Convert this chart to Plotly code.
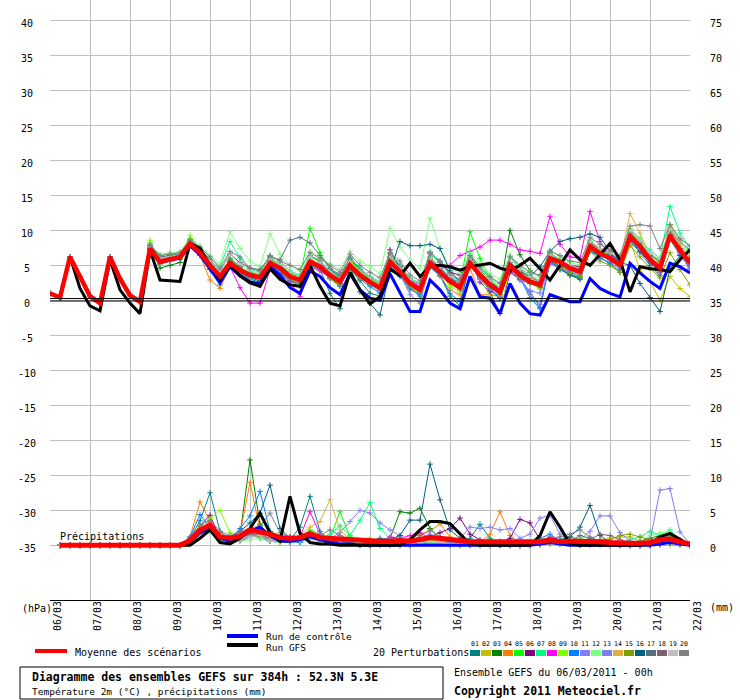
import plotly.graph_objects as go

# GEFS ensemble run of 06/03/2011 00h, 52.3N 5.3E, 6-hourly steps over 384h
hours = list(range(0, 385, 6))
precip_hours = hours[1:]
day_hours = list(range(0, 385, 24))
date_labels = ["06/03", "07/03", "08/03", "09/03", "10/03", "11/03", "12/03", "13/03", "14/03",
               "15/03", "16/03", "17/03", "18/03", "19/03", "20/03", "21/03", "22/03"]
temp_ticks = [-35, -30, -25, -20, -15, -10, -5, 0, 5, 10, 15, 20, 25, 30, 35, 40]
precip_ticks = [0, 5, 10, 15, 20, 25, 30, 35, 40, 45, 50, 55, 60, 65, 70, 75]

# 2m temperature (°C)
temp_mean = [1.0, 0.4, 6.2, 3.4, 0.6, -0.4, 6.2, 3.1, 0.7, -0.2,
             7.4, 5.5, 5.9, 6.2, 8.1, 6.8, 5.0, 3.4, 5.3, 4.3, 3.6, 3.3,
             5.3, 4.6, 3.4, 2.9, 5.5, 4.8, 3.6, 2.7, 5.0, 3.6, 2.6, 1.8,
             5.5, 4.1, 2.4, 1.5, 5.3, 4.1, 2.7, 1.8, 5.3, 3.6, 2.2, 1.2,
             5.0, 3.6, 2.7, 2.2, 6.0, 5.5, 4.6, 4.1, 7.7, 6.7, 6.0, 5.0,
             9.1, 7.7, 5.8, 4.6, 9.3, 7.2, 5.3]
temp_control = [1.0, 0.4, 6.2, 3.4, 0.6, -0.4, 6.2, 3.1, 0.7, -0.2,
                7.2, 5.4, 5.8, 6.0, 7.8, 6.5, 4.5, 2.5, 4.8, 3.5, 2.6, 2.4,
                4.8, 3.6, 1.8, 1.0, 4.2, 3.4, 1.8, 0.8, 3.8, 1.5, 0.3, 0.0,
                3.8, 1.0, -1.6, -1.6, 2.9, 1.5, -0.4, -1.2, 3.4, 0.5, 0.3, -1.9,
                2.4, -0.4, -1.9, -2.1, 0.8, 0.3, -0.2, -0.2, 3.1, 1.7, 1.0, 0.5,
                5.3, 3.9, 2.7, 1.7, 5.3, 4.8, 3.9]
temp_gfs = [1.0, 0.4, 6.2, 1.7, -0.8, -1.5, 5.8, 1.5, -0.4, -1.9,
            7.2, 2.9, 2.8, 2.7, 8.1, 7.4, 5.0, 3.0, 5.0, 3.5, 2.5, 2.0,
            4.5, 3.0, 2.2, 2.0, 5.0, 2.0, -0.4, -0.8, 4.0, 1.5, -0.5, 0.5,
            4.5, 3.5, 5.3, 3.4, 4.8, 5.0, 4.8, 4.3, 4.8, 5.0, 5.3, 4.6,
            4.2, 5.0, 6.0, 4.5, 2.9, 5.0, 7.2, 5.8, 5.0, 6.5, 8.1, 5.8,
            1.2, 4.8, 4.5, 4.4, 4.1, 5.8, 7.2]
# first 60h: members identical
temp_start = [1.0, 0.4, 6.2, 3.4, 0.6, -0.4, 6.2, 3.1, 0.7, -0.2]
temp_p01 = temp_start + [7.6, 5.2, 5.6, 6.0, 8.3, 6.5, 4.4, 2.2, 4.9, 3.8, 3.0, 2.6, 5.0, 4.0,
                         2.8, 2.0, 5.1, 4.4, 1.0, -1.2, 4.6, 2.8, 1.0, 0.6, 4.2, 3.5,
                         1.8, 0.6, 4.7, 3.6, 0.6, -0.8, 5.6, 3.2, 1.4, 0.3, 4.4, 3.0,
                         1.2, -1.0, 5.5, 4.6, 3.6, 3.2, 7.0, 6.2, 5.2, 4.0, 8.4, 6.9,
                         5.0, 3.5, 8.7, 6.5, 4.6]
temp_p02 = temp_start + [7.2, 5.8, 6.1, 6.4, 8.0, 7.0, 5.3, 3.9, 5.6, 4.6, 4.0, 3.6, 5.8, 5.0,
                         3.9, 3.4, 6.0, 5.1, 3.8, 3.0, 5.5, 4.1, 3.0, 2.2, 6.1, 4.5,
                         2.9, 2.0, 5.8, 4.6, 3.1, 2.4, 5.9, 4.0, 2.6, 1.7, 5.4, 4.2,
                         3.3, 2.8, 6.4, 5.5, 4.8, 4.3, 8.1, 7.0, 6.2, 4.8, 8.6, 4.3,
                         2.7, 0.0, 3.4, 1.7, 0.5]
temp_p03 = temp_start + [7.8, 4.6, 5.0, 5.4, 8.6, 7.2, 5.4, 3.0, 6.0, 4.8, 3.2, 2.8, 6.2, 5.0,
                         3.9, 3.3, 6.4, 5.6, 4.1, 3.2, 5.8, 4.2, 3.2, 2.4, 6.2, 4.8,
                         2.0, 1.2, 6.0, 4.6, 3.2, 2.0, 6.3, 4.3, 2.8, 1.6, 10.0, 6.5,
                         4.2, 3.4, 6.8, 4.4, 3.6, 3.0, 7.2, 6.3, 6.6, 5.4, 9.8, 8.2,
                         6.2, 5.0, 9.0, 7.0, 5.8]
temp_p04 = temp_start + [7.0, 5.6, 5.8, 6.0, 7.8, 6.4, 2.9, 1.7, 4.8, 3.6, 3.0, 3.2, 5.6, 4.2,
                         3.0, 2.0, 5.2, 4.4, 3.2, 2.4, 4.8, 3.2, 2.2, 1.5, 5.4, 3.6,
                         1.8, 1.0, 4.8, 3.4, 1.5, 0.8, 4.6, 0.8, 0.8, 0.5, 5.4, 3.4,
                         2.6, 1.8, 6.2, 5.4, 4.6, 4.2, 8.2, 7.2, 6.4, 5.6, 9.6, 8.4,
                         6.0, 5.2, 10.2, 8.0, 6.0]
temp_p05 = temp_start + [8.2, 6.0, 6.4, 6.6, 8.8, 7.4, 5.6, 3.8, 5.8, 4.6, 4.0, 3.6, 5.9, 5.0,
                         3.8, 3.4, 10.3, 6.8, 4.4, 3.3, 6.0, 4.2, 3.0, 2.4, 6.6, 5.0,
                         3.0, 2.2, 6.2, 4.8, 3.2, 2.4, 9.8, 6.0, 3.0, 1.8, 6.4, 4.4,
                         3.4, 2.6, 6.8, 5.8, 4.8, 4.2, 8.4, 7.2, 6.4, 5.4, 10.2, 8.8,
                         6.6, 5.6, 10.8, 8.6, 6.8]
temp_p06 = temp_start + [7.4, 5.6, 6.0, 6.4, 8.2, 6.9, 4.8, 3.0, 5.0, 4.0, 3.4, 3.0, 5.0, 4.4,
                         3.2, 2.6, 5.2, 4.6, 3.4, 2.4, 4.8, 3.4, 2.4, 1.6, 7.2, 4.6,
                         2.8, 2.4, 6.8, 5.6, 4.0, 3.6, 6.0, 2.6, 1.2, -1.9, 4.0, 3.0,
                         2.4, 1.8, 5.6, 4.8, 5.0, 4.8, 7.4, 6.4, 6.2, 5.4, 8.6, 7.0,
                         5.4, 4.2, 8.8, 7.0, 5.6]
temp_p07 = temp_start + [7.8, 6.4, 6.6, 6.8, 8.8, 7.6, 6.2, 4.8, 8.4, 6.0, 4.4, 4.0, 6.4, 5.6,
                         4.2, 3.6, 6.4, 5.4, 4.2, 3.0, 6.2, 4.6, 3.4, 2.6, 6.8, 5.0,
                         3.2, 2.4, 7.0, 5.4, 3.6, 2.8, 6.6, 4.6, 3.2, 2.4, 6.2, 4.6,
                         3.6, 2.8, 6.6, 5.6, 5.0, 4.4, 8.6, 7.4, 6.8, 5.8, 10.0, 8.4,
                         7.2, 6.0, 13.4, 9.6, 7.4]
temp_p08 = temp_start + [7.6, 5.6, 5.8, 6.1, 8.2, 6.4, 4.4, 2.8, 4.8, 1.8, -0.4, -0.4, 4.4, 3.8,
                         2.6, 0.5, 4.8, 4.2, 3.2, 2.2, 4.8, 3.4, 2.6, 1.6, 5.8, 4.4,
                         2.8, 2.0, 5.6, 4.4, 5.0, 6.4, 7.0, 7.6, 8.6, 8.6, 8.0, 7.2,
                         7.0, 6.7, 12.0, 8.0, 6.2, 6.0, 12.7, 8.4, 6.4, 5.6, 9.4, 7.6,
                         5.4, 4.0, 9.0, 6.8, 4.8]
temp_p09 = temp_start + [8.6, 5.4, 5.8, 6.2, 9.3, 7.4, 5.0, 3.2, 5.6, 4.6, 3.8, 3.4, 5.8, 4.8,
                         3.0, 2.2, 5.6, 4.6, 3.0, 2.0, 5.2, 3.8, 2.2, 1.4, 5.8, 4.0,
                         2.0, 1.0, 5.0, 3.8, 2.0, 1.2, 5.6, 3.0, 0.6, -1.6, 4.6, 3.6,
                         2.6, 1.6, 5.8, 4.8, 4.2, 3.6, 7.6, 6.4, 6.0, 4.8, 9.2, 7.4,
                         5.6, 4.2, 9.6, 7.4, 5.2]
temp_p10 = temp_start + [7.2, 5.4, 5.8, 6.0, 8.0, 6.6, 4.6, 2.8, 5.0, 3.8, 3.2, 3.0, 5.0, 4.2,
                         2.8, 2.4, 5.0, 4.4, 3.2, 2.0, 4.6, 3.0, 2.0, 1.0, 5.0, 3.4,
                         1.6, 0.8, 4.8, 3.6, 1.0, -0.2, 5.0, 3.2, 1.6, 0.4, 4.6, 3.2,
                         0.4, -1.2, 5.4, 4.4, 3.8, 3.2, 7.2, 6.0, 5.4, 4.4, 8.8, 7.2,
                         5.4, 4.2, 9.0, 7.0, 5.0]
temp_p11 = temp_start + [7.0, 5.8, 6.2, 6.5, 8.0, 6.8, 5.2, 3.6, 5.2, 4.2, 3.8, 3.4, 5.6, 4.8,
                         3.6, 3.0, 5.6, 4.6, 3.4, 2.4, 4.8, 3.4, 2.4, 1.2, 5.2, 3.8,
                         2.2, 1.2, 5.0, 4.4, 3.4, 2.6, 5.6, 3.0, 1.6, 0.6, 4.6, 2.8,
                         1.4, 1.0, 5.2, 4.6, 4.2, 3.8, 7.4, 6.4, 5.8, 5.0, 9.0, 7.6,
                         5.8, 4.8, 9.2, 7.2, 5.6]
temp_p12 = temp_start + [7.8, 6.6, 6.8, 7.0, 8.6, 7.8, 6.4, 5.2, 9.8, 7.4, 5.6, 4.8, 9.5, 6.6,
                         5.0, 4.2, 7.0, 6.2, 5.2, 4.4, 7.0, 5.6, 4.8, 3.8, 10.3, 7.6,
                         5.8, 4.6, 11.7, 7.4, 4.6, 3.8, 6.8, 5.2, 3.8, 3.0, 6.4, 5.0,
                         4.0, 3.4, 7.2, 6.2, 5.4, 5.0, 8.6, 7.4, 6.8, 5.8, 9.8, 8.4,
                         6.6, 5.4, 10.4, 8.2, 6.6]
temp_p13 = temp_start + [7.4, 5.2, 5.6, 5.9, 7.8, 6.6, 4.8, 3.2, 5.4, 4.0, 3.4, 3.2, 5.2, 4.4,
                         3.2, 2.6, 5.2, 4.8, 3.6, 2.6, 4.8, 3.2, 2.4, 1.6, 5.4, 3.8,
                         0.8, -0.4, 5.2, 3.8, 2.6, 1.6, 5.0, 3.2, 1.8, 0.8, 4.8, 3.4,
                         0.8, -0.6, 5.8, 4.6, 4.0, 3.6, 7.4, 6.4, 5.8, 4.8, 8.8, 7.4,
                         6.0, 5.0, 9.8, 6.6, 4.4]
temp_p14 = temp_start + [7.6, 5.4, 5.8, 6.2, 8.0, 6.8, 5.2, 3.6, 5.4, 4.4, 3.4, 3.0, 5.4, 4.8,
                         3.6, 3.0, 5.8, 5.0, 3.8, 2.8, 5.4, 3.8, 2.8, 2.0, 5.6, 4.2,
                         2.6, 1.6, 5.2, 4.0, 2.8, 2.0, 5.2, 3.8, 2.4, 1.4, 5.2, 4.2,
                         3.2, 2.6, 6.4, 5.4, 4.6, 4.2, 8.4, 7.2, 6.8, 5.6, 12.4, 9.6,
                         6.4, 5.4, 10.6, 8.0, 6.2]
temp_p15 = temp_start + [7.2, 5.4, 5.8, 6.0, 8.2, 6.6, 5.0, 3.2, 5.2, 4.2, 3.4, 3.2, 5.2, 4.4,
                         3.0, 2.4, 5.2, 4.4, 3.2, 2.2, 4.6, 3.2, 2.4, 1.6, 5.2, 3.8,
                         2.2, 1.2, 5.2, 4.0, 2.6, 1.6, 5.0, 3.4, 2.0, 0.8, 4.6, 3.2,
                         2.8, 2.0, 5.8, 4.6, 4.0, 3.4, 7.0, 5.6, 5.0, 4.0, 7.8, 6.2,
                         4.6, 3.2, 6.8, 4.4, 2.2]
temp_p16 = temp_start + [7.6, 5.8, 6.0, 6.3, 8.4, 7.0, 5.4, 3.6, 5.6, 4.6, 3.8, 3.4, 5.4, 4.6,
                         3.4, 2.8, 5.6, 5.0, 4.4, 3.4, 4.8, 1.2, -0.4, -2.1, 4.2, 8.4,
                         7.8, 7.8, 8.0, 7.4, 4.2, 2.6, 5.4, 3.6, 2.2, 1.2, 5.4, 4.0,
                         3.4, 4.8, 7.0, 8.4, 8.8, 9.0, 9.5, 9.0, 7.0, 5.4, 5.0, 2.4,
                         0.4, -1.6, 4.5, 6.4, 6.0]
temp_p17 = temp_start + [7.8, 6.2, 6.4, 6.6, 8.6, 7.4, 5.8, 4.2, 6.6, 5.4, 4.6, 4.4, 6.2, 5.8,
                         8.6, 9.0, 8.2, 6.4, 4.6, 3.6, 6.0, 4.4, 3.2, 2.4, 6.2, 4.8,
                         3.0, 2.2, 5.8, 4.6, 3.2, 2.4, 6.0, 4.2, 2.6, 1.6, 5.4, 4.2,
                         3.4, 2.6, 6.6, 5.6, 5.0, 4.6, 8.2, 7.4, 6.6, 5.8, 9.6, 8.2,
                         6.4, 5.6, 9.8, 8.4, 7.2]
temp_p18 = temp_start + [7.2, 5.6, 6.0, 6.2, 8.0, 6.8, 5.0, 3.4, 5.4, 4.4, 3.8, 3.4, 5.6, 4.8,
                         3.4, 3.0, 5.4, 4.6, 3.4, 2.6, 4.8, 3.6, 2.6, 1.8, 5.4, 4.2,
                         2.6, 1.8, 5.6, 4.4, 2.8, 2.0, 5.4, 3.6, 2.2, 1.2, 4.8, 3.6,
                         2.8, 2.2, 5.8, 4.8, 4.4, 4.0, 7.6, 6.6, 5.8, 5.0, 9.4, 7.8,
                         5.6, 4.6, 9.4, 7.4, 5.4]
temp_p19 = temp_start + [7.6, 6.0, 6.2, 6.5, 8.4, 7.2, 5.6, 4.0, 6.6, 5.2, 4.2, 3.8, 6.0, 5.2,
                         4.0, 3.4, 6.2, 5.4, 4.2, 3.2, 5.6, 4.2, 3.2, 2.4, 6.2, 4.6,
                         3.0, 2.2, 6.0, 4.8, 3.4, 2.6, 6.0, 4.2, 2.8, 1.8, 5.6, 4.4,
                         3.4, 2.8, 6.6, 5.6, 5.0, 4.6, 8.4, 7.4, 6.8, 6.0, 10.0, 8.6,
                         6.8, 5.8, 10.2, 8.4, 7.0]
temp_p20 = temp_start + [8.0, 6.4, 6.6, 6.8, 8.6, 7.6, 6.2, 4.6, 7.0, 6.2, 4.6, 4.2, 6.4, 5.6,
                         5.0, 4.4, 6.8, 6.0, 5.0, 4.0, 6.6, 5.0, 4.0, 3.2, 6.8, 5.6,
                         3.6, 2.8, 6.6, 5.4, 3.8, 3.0, 6.4, 4.8, 3.4, 2.4, 6.2, 5.0,
                         4.0, 3.6, 7.0, 6.4, 5.6, 5.4, 9.0, 8.0, 7.2, 6.4, 10.6, 10.8,
                         10.6, 7.4, 10.8, 8.8, 7.8]

# precipitation (mm / 6h), steps 6h..384h; dry until 09/03 06h
precip_dry = [0.0, 0.0, 0.0, 0.0, 0.0, 0.0, 0.0, 0.0, 0.0, 0.0, 0.0, 0.0, 0.0]
precip_mean = precip_dry + [0.7, 2.2, 2.9, 1.2, 1.0, 1.3, 2.2, 1.9, 1.6, 1.1, 1.0, 1.1, 1.7,
                            1.1, 1.0, 1.0, 0.8, 0.7, 0.7, 0.6, 0.6, 0.7, 0.6, 0.8, 1.1, 1.0,
                            0.8, 0.6, 0.5, 0.5, 0.5, 0.4, 0.4, 0.4, 0.4, 0.5, 0.8, 0.5, 0.6,
                            0.6, 0.6, 0.5, 0.4, 0.3, 0.3, 0.3, 0.4, 0.8, 0.9, 0.5, 0.2]
precip_control = precip_dry + [0.4, 1.8, 2.6, 1.0, 0.6, 1.2, 2.0, 2.6, 1.4, 0.6, 0.6, 0.8, 1.2,
                               0.8, 0.4, 0.2, 0.2, 0.0, 0.0, 0.0, 0.0, 0.0, 0.0, 0.0, 0.0, 0.0,
                               0.0, 0.0, 0.0, 0.0, 0.0, 0.0, 0.0, 0.0, 0.0, 0.2, 0.4, 0.2, 0.0,
                               0.0, 0.0, 0.0, 0.0, 0.0, 0.0, 0.0, 0.0, 0.2, 0.4, 0.2, 0.0]
precip_gfs = precip_dry + [0.0, 1.0, 2.2, 0.4, 0.2, 1.0, 2.4, 4.6, 1.8, 0.6, 7.0, 1.7, 0.4,
                           0.2, 0.2, 0.0, 0.0, 0.0, 0.0, 0.0, 0.0, 0.0, 0.8, 2.2, 3.4, 3.4,
                           3.1, 1.7, 0.2, 0.0, 0.0, 0.0, 0.0, 0.0, 0.0, 1.4, 4.8, 2.6, 0.2,
                           0.0, 0.0, 0.0, 0.0, 0.0, 0.0, 0.0, 0.2, 1.2, 1.7, 0.8, 0.0]
precip_p01 = precip_dry + [1.0, 3.5, 7.5, 2.0, 0.8, 1.2, 2.4, 1.0, 0.6, 0.4, 0.8, 2.6, 7.0,
                           2.0, 0.6, 0.4, 0.2, 0.0, 0.0, 0.2, 0.4, 0.0, 0.0, 0.2, 0.6, 0.8,
                           0.4, 0.6, 1.0, 3.0, 1.0, 0.2, 0.0, 0.0, 0.0, 0.4, 0.6, 0.2, 0.4,
                           0.8, 0.6, 0.2, 0.0, 0.0, 0.2, 0.0, 0.0, 0.4, 0.6, 0.2, 0.0]
precip_p02 = precip_dry + [0.4, 1.6, 2.4, 1.0, 0.6, 0.8, 1.4, 1.8, 0.8, 0.4, 0.6, 0.8, 1.4,
                           1.0, 0.8, 0.6, 0.4, 0.2, 0.2, 0.0, 0.0, 0.2, 0.4, 0.6, 0.8, 0.4,
                           0.2, 0.0, 0.0, 0.2, 0.4, 0.2, 0.0, 0.0, 0.2, 0.6, 1.0, 0.8, 1.2,
                           0.6, 0.4, 0.8, 1.0, 1.2, 1.2, 0.6, 0.2, 0.0, 0.0, 0.0, 0.0]
precip_p03 = precip_dry + [0.6, 2.0, 3.0, 1.2, 0.6, 1.4, 12.2, 3.0, 1.2, 0.6, 0.4, 0.8, 1.8,
                           1.2, 0.8, 0.4, 0.4, 0.2, 0.2, 0.6, 1.0, 4.8, 4.6, 5.3, 2.4, 1.0,
                           0.6, 0.4, 0.2, 0.0, 0.0, 0.2, 0.2, 0.0, 0.0, 0.2, 0.4, 0.2, 0.2,
                           0.6, 0.4, 0.2, 0.0, 0.0, 0.4, 0.6, 1.0, 1.4, 1.6, 0.8, 0.2]
precip_p04 = precip_dry + [1.2, 6.2, 3.5, 0.6, 0.8, 1.6, 9.0, 2.2, 1.0, 0.6, 0.8, 1.0, 1.6,
                           0.8, 0.6, 0.4, 0.6, 0.4, 0.2, 0.0, 0.4, 0.6, 1.0, 1.6, 2.0, 3.1,
                           1.2, 0.4, 0.6, 0.4, 1.6, 4.8, 1.4, 0.4, 0.2, 0.0, 0.2, 0.4, 0.2,
                           0.0, 0.0, 0.2, 0.4, 0.2, 0.0, 0.0, 0.0, 0.2, 0.4, 0.2, 0.0]
precip_p05 = precip_dry + [0.8, 2.4, 2.6, 1.4, 1.0, 1.6, 1.8, 1.2, 2.0, 1.4, 0.6, 1.0, 2.2,
                           1.6, 1.0, 4.8, 1.2, 0.4, 0.2, 0.4, 0.2, 0.0, 0.0, 0.4, 0.8, 0.6,
                           0.4, 0.2, 0.0, 0.0, 0.2, 0.4, 0.2, 0.0, 0.0, 0.2, 0.4, 0.6, 0.8,
                           0.4, 0.2, 0.0, 0.0, 0.2, 0.2, 0.0, 0.2, 0.6, 1.2, 0.4, 0.0]
precip_p06 = precip_dry + [1.0, 2.8, 4.3, 1.0, 0.8, 0.6, 1.2, 1.4, 0.6, 0.8, 1.2, 0.8, 1.0,
                           0.6, 0.4, 0.6, 0.4, 0.2, 0.0, 0.2, 0.4, 0.2, 0.4, 0.6, 1.2, 1.8,
                           2.4, 3.9, 1.6, 0.8, 0.4, 0.2, 1.0, 3.7, 3.2, 0.8, 0.4, 0.2, 0.2,
                           0.4, 0.6, 0.2, 0.0, 0.0, 0.2, 0.0, 0.0, 0.2, 0.4, 0.2, 0.0]
precip_p07 = precip_dry + [0.4, 1.8, 2.2, 1.6, 0.8, 1.0, 1.4, 1.0, 1.2, 0.6, 0.6, 0.4, 1.2,
                           0.8, 1.6, 2.8, 1.4, 3.6, 6.1, 2.4, 1.0, 0.6, 0.4, 0.2, 0.4, 0.2,
                           0.0, 0.2, 0.4, 0.0, 0.0, 0.0, 0.2, 0.2, 0.4, 0.6, 0.4, 0.2, 0.2,
                           0.0, 0.2, 0.4, 0.6, 0.4, 0.8, 1.2, 2.0, 1.4, 2.2, 0.6, 0.0]
precip_p08 = precip_dry + [0.6, 2.2, 3.4, 1.6, 0.6, 1.0, 1.6, 1.4, 0.8, 0.6, 0.8, 1.2, 4.8,
                           1.6, 0.6, 0.4, 0.6, 0.2, 0.4, 0.6, 1.2, 1.0, 1.4, 1.8, 1.0, 0.6,
                           0.4, 0.2, 0.2, 0.4, 0.2, 0.0, 0.0, 0.2, 0.4, 0.6, 1.2, 0.8, 0.6,
                           0.4, 0.2, 0.2, 0.0, 0.2, 0.0, 0.0, 0.2, 0.4, 0.6, 0.2, 0.0]
precip_p09 = precip_dry + [0.8, 2.6, 3.8, 5.0, 1.8, 1.0, 2.0, 1.4, 1.0, 0.6, 0.4, 0.6, 1.0,
                           0.8, 0.6, 0.4, 0.2, 0.2, 0.4, 0.2, 0.6, 0.4, 0.2, 0.4, 0.8, 0.6,
                           0.2, 0.0, 0.2, 0.4, 0.6, 0.4, 0.2, 0.0, 0.2, 0.4, 0.6, 0.6, 0.8,
                           1.0, 0.6, 0.4, 0.2, 0.0, 0.0, 0.2, 0.4, 0.8, 1.2, 0.4, 0.0]
precip_p10 = precip_dry + [1.2, 4.4, 2.6, 1.0, 0.8, 2.4, 4.2, 7.7, 2.0, 0.8, 0.6, 0.4, 1.2,
                           0.8, 0.4, 0.2, 0.2, 0.0, 0.2, 0.4, 0.2, 0.0, 0.2, 0.6, 1.4, 1.0,
                           0.4, 0.2, 0.0, 0.2, 0.4, 0.6, 0.2, 0.0, 0.2, 1.0, 1.6, 0.6, 0.2,
                           0.0, 0.2, 0.4, 0.2, 0.0, 0.0, 0.0, 0.2, 0.4, 0.6, 0.2, 0.0]
precip_p11 = precip_dry + [0.4, 1.4, 2.0, 1.2, 0.6, 0.8, 1.2, 1.6, 1.0, 0.6, 0.8, 0.6, 1.0,
                           1.4, 1.0, 1.8, 3.4, 5.0, 4.6, 3.2, 2.2, 1.4, 0.6, 0.4, 0.6, 0.4,
                           0.4, 1.0, 2.6, 2.4, 2.6, 2.2, 2.4, 1.0, 1.6, 3.9, 4.3, 1.6, 0.6,
                           0.4, 0.2, 0.2, 0.0, 0.2, 0.0, 0.0, 0.2, 0.6, 0.8, 0.4, 0.0]
precip_p12 = precip_dry + [0.6, 1.2, 1.8, 0.8, 0.4, 0.6, 0.8, 1.0, 0.6, 0.4, 0.6, 0.8, 1.0,
                           0.6, 0.4, 0.2, 0.4, 0.6, 1.0, 0.8, 0.6, 0.4, 0.2, 0.2, 0.4, 0.2,
                           0.0, 0.2, 0.4, 0.2, 0.0, 0.0, 0.2, 0.4, 0.6, 0.4, 0.2, 0.2, 0.4,
                           0.6, 0.4, 0.2, 0.0, 0.2, 0.4, 0.6, 1.4, 1.8, 2.0, 0.8, 0.2]
precip_p13 = precip_dry + [0.6, 2.0, 2.8, 1.4, 1.0, 0.8, 1.6, 2.4, 1.0, 0.6, 0.4, 0.6, 1.2,
                           0.8, 0.8, 0.6, 0.4, 0.2, 0.4, 0.2, 0.0, 0.2, 0.6, 0.8, 1.6, 0.8,
                           0.4, 0.2, 0.6, 0.4, 0.2, 0.4, 0.2, 0.0, 0.2, 0.4, 1.2, 0.4, 1.2,
                           0.8, 2.0, 4.2, 4.2, 1.8, 0.6, 0.4, 0.6, 7.9, 8.1, 1.9, 0.2]
precip_p14 = precip_dry + [0.8, 2.4, 3.2, 1.6, 1.2, 1.4, 1.8, 1.6, 1.2, 0.8, 1.0, 1.4, 2.6,
                           3.4, 6.5, 2.2, 0.8, 0.4, 0.2, 0.2, 0.4, 0.2, 0.4, 0.6, 0.8, 0.6,
                           0.2, 0.4, 0.2, 0.0, 0.2, 0.4, 0.2, 0.2, 0.4, 0.2, 0.2, 0.4, 0.6,
                           0.4, 0.6, 0.4, 0.2, 0.2, 0.0, 0.0, 0.2, 0.4, 0.8, 0.2, 0.0]
precip_p15 = precip_dry + [0.6, 1.8, 2.2, 1.0, 0.6, 1.2, 1.6, 2.0, 1.4, 0.8, 0.6, 0.8, 1.2,
                           0.6, 0.4, 0.2, 0.4, 0.6, 0.8, 0.6, 0.2, 0.0, 0.2, 0.4, 0.2, 0.2,
                           0.0, 0.0, 0.2, 0.4, 0.2, 0.0, 0.0, 0.0, 0.2, 0.6, 0.8, 0.6, 0.8,
                           0.6, 0.4, 0.6, 0.8, 1.4, 1.6, 1.2, 0.8, 0.6, 0.4, 0.2, 0.0]
precip_p16 = precip_dry + [0.4, 1.6, 2.2, 1.4, 1.0, 2.0, 3.2, 4.6, 8.6, 2.4, 1.0, 0.6, 1.4,
                           1.0, 0.6, 0.4, 0.2, 0.4, 0.6, 1.0, 0.8, 1.4, 3.6, 3.6, 11.6, 6.5,
                           2.2, 1.0, 0.6, 0.4, 0.2, 0.0, 0.2, 0.4, 0.2, 0.2, 0.4, 0.8, 1.2,
                           2.6, 5.7, 1.4, 0.4, 0.2, 0.0, 0.2, 0.4, 0.6, 0.4, 0.2, 0.0]
precip_p17 = precip_dry + [0.6, 2.0, 2.6, 1.2, 0.8, 1.0, 1.8, 2.2, 1.6, 1.0, 0.8, 1.2, 1.6,
                           1.2, 0.8, 0.6, 0.4, 0.2, 0.2, 0.4, 0.6, 0.4, 0.2, 0.4, 0.8, 1.0,
                           0.6, 0.4, 0.2, 0.2, 0.0, 0.2, 0.4, 0.2, 0.2, 0.4, 0.6, 0.4, 0.6,
                           1.4, 1.0, 0.6, 0.4, 0.2, 0.2, 0.0, 0.2, 0.6, 1.0, 0.4, 0.0]
precip_p18 = precip_dry + [0.6, 1.6, 2.4, 1.4, 0.8, 1.2, 1.6, 1.4, 1.0, 0.8, 0.6, 0.8, 1.2,
                           1.0, 0.6, 0.4, 0.2, 0.2, 0.4, 0.6, 0.4, 0.2, 0.2, 0.6, 1.0, 0.8,
                           0.6, 0.4, 0.2, 0.0, 0.2, 0.4, 0.4, 0.2, 0.2, 0.6, 0.8, 0.6, 0.6,
                           0.4, 0.8, 1.6, 1.4, 0.8, 0.4, 0.2, 0.2, 0.4, 0.6, 0.4, 0.0]
precip_p19 = precip_dry + [0.4, 1.4, 2.0, 1.0, 0.6, 0.8, 1.2, 1.4, 0.8, 0.6, 0.8, 0.6, 1.0,
                           0.8, 0.4, 0.4, 0.2, 0.4, 0.6, 0.4, 0.2, 0.0, 0.2, 0.4, 0.6, 0.4,
                           0.2, 0.2, 0.2, 0.0, 0.0, 0.2, 0.4, 0.2, 0.2, 0.4, 0.6, 0.4, 0.4,
                           0.6, 0.4, 0.2, 0.2, 0.4, 0.4, 0.2, 0.4, 0.6, 0.8, 0.4, 0.0]
precip_p20 = precip_dry + [1.0, 2.8, 3.6, 2.0, 1.4, 2.0, 2.4, 2.8, 4.6, 1.8, 1.2, 1.0, 1.6,
                           1.4, 2.2, 1.4, 0.8, 0.6, 0.4, 0.6, 1.0, 0.6, 0.4, 1.4, 2.2, 1.2,
                           0.6, 0.4, 0.2, 0.2, 0.4, 0.2, 0.0, 0.2, 0.4, 0.8, 1.0, 1.2, 1.6,
                           2.2, 1.2, 0.6, 0.4, 0.2, 0.2, 0.4, 0.6, 1.0, 1.4, 0.6, 0.0]

member_names = ["01", "02", "03", "04", "05", "06", "07", "08", "09", "10",
                "11", "12", "13", "14", "15", "16", "17", "18", "19", "20"]
member_colors = ["#008080", "#c0c000", "#008000", "#ff8000", "#00ff00", "#800080", "#00ff80",
                 "#ff00ff", "#80ff00", "#0080ff", "#8080ff", "#80ff80", "#7f7ff0", "#e0b040",
                 "#80a000", "#006080", "#507080", "#806070", "#c0c0c0", "#808080"]
temp_members = [temp_p01, temp_p02, temp_p03, temp_p04, temp_p05, temp_p06, temp_p07,
                temp_p08, temp_p09, temp_p10, temp_p11, temp_p12, temp_p13, temp_p14,
                temp_p15, temp_p16, temp_p17, temp_p18, temp_p19, temp_p20]
precip_members = [precip_p01, precip_p02, precip_p03, precip_p04, precip_p05, precip_p06,
                  precip_p07, precip_p08, precip_p09, precip_p10, precip_p11, precip_p12,
                  precip_p13, precip_p14, precip_p15, precip_p16, precip_p17, precip_p18,
                  precip_p19, precip_p20]

MONO = "DejaVu Sans Mono"
W, H = 740, 700
L, R, T, B = 50, 50, 0, 100      # plot area: x 50..690, y 0..600 px
PW, PH = W - L - R, H - T - B


def px(x):
    return (x - L) / PW


def py(y):
    return (H - B - y) / PH


fig = go.Figure()

for name, color, temps in zip(member_names, member_colors, temp_members):
    fig.add_trace(go.Scatter(
        x=hours, y=temps, mode="lines+markers", name=name, showlegend=False,
        line=dict(color=color, width=1),
        marker=dict(symbol="cross-thin", size=4, line=dict(color=color, width=1)),
    ))
for name, color, rain in zip(member_names, member_colors, precip_members):
    fig.add_trace(go.Scatter(
        x=precip_hours, y=rain, yaxis="y2", mode="lines+markers", showlegend=False,
        line=dict(color=color, width=1),
        marker=dict(symbol="cross-thin", size=4, line=dict(color=color, width=1)),
    ))

fig.add_trace(go.Scatter(x=hours, y=temp_control, mode="lines", showlegend=False,
                         line=dict(color="#0000ff", width=3)))
fig.add_trace(go.Scatter(x=precip_hours, y=precip_control, yaxis="y2", mode="lines",
                         showlegend=False, line=dict(color="#0000ff", width=3)))
fig.add_trace(go.Scatter(x=hours, y=temp_gfs, mode="lines", showlegend=False,
                         line=dict(color="#000000", width=3)))
fig.add_trace(go.Scatter(x=precip_hours, y=precip_gfs, yaxis="y2", mode="lines",
                         showlegend=False, line=dict(color="#000000", width=3)))
fig.add_trace(go.Scatter(x=hours, y=temp_mean, mode="lines", showlegend=False,
                         line=dict(color="#ff0000", width=4.5)))
fig.add_trace(go.Scatter(x=precip_hours, y=precip_mean, yaxis="y2", mode="lines",
                         showlegend=False, line=dict(color="#ff0000", width=5)))

# double zero line
for yv in (0.25, -0.1):
    fig.add_shape(type="line", xref="paper", yref="y", x0=0, x1=1, y0=yv, y1=yv,
                  line=dict(color="black", width=1))

ann = []
for v in temp_ticks:
    ann.append(dict(x=px(27), xref="paper", y=v, yref="y", text=str(v), showarrow=False,
                    xanchor="center", yanchor="middle", yshift=-3,
                    font=dict(family=MONO, size=10, color="black")))
for v in precip_ticks:
    ann.append(dict(x=px(708), xref="paper", y=v, yref="y2", text=str(v), showarrow=False,
                    xanchor="left", yanchor="middle", yshift=-3,
                    font=dict(family=MONO, size=10, color="black")))
for hx, lab in zip(day_hours, date_labels):
    ann.append(dict(x=hx, xref="x", y=py(599), yref="paper", text=lab, showarrow=False,
                    textangle=-90, xanchor="center", yanchor="top", xshift=7,
                    font=dict(family=MONO, size=10, color="black")))

texts = [
    ("(hPa)", 20, 608, "left", 10, False),
    ("(mm)", 708, 607, "left", 10, False),
    ("Précipitations", 58, 536, "left", 10, False),
    ("Run de contrôle", 264, 636, "left", 9.5, False),
    ("Run GFS", 264, 647, "left", 9.5, False),
    ("Moyenne des scénarios", 73, 652, "left", 10, False),
    ("20 Perturbations", 371, 652, "left", 10, False),
    ("Diagramme des ensembles GEFS sur 384h : 52.3N 5.3E", 30, 677, "left", 11.5, True),
    ("Température 2m (°C) , précipitations (mm)", 30, 691, "left", 9.5, False),
    ("Ensemble GEFS du 06/03/2011 - 00h", 452, 672, "left", 10, False),
    ("Copyright 2011 Meteociel.fr", 452, 691, "left", 11.5, True),
]
for txt, x, y, anchor, size, bold in texts:
    ann.append(dict(x=px(x), xref="paper", y=py(y), yref="paper",
                    text="<b>%s</b>" % txt if bold else txt, showarrow=False,
                    xanchor=anchor, yanchor="middle",
                    font=dict(family=MONO, size=size, color="black")))

# legend line samples
for x0, x1, y, color in [(35, 67, 651, "#ff0000"), (227, 258, 636, "#0000ff"),
                         (227, 258, 645, "#000000")]:
    fig.add_shape(type="line", xref="paper", yref="paper", x0=px(x0), x1=px(x1),
                  y0=py(y), y1=py(y), line=dict(color=color, width=4))

# perturbation colour squares with numbers
for k, (name, color) in enumerate(zip(member_names, member_colors)):
    x0 = 470 + 11 * k
    fig.add_shape(type="rect", xref="paper", yref="paper", x0=px(x0), x1=px(x0 + 10),
                  y0=py(656), y1=py(650), fillcolor=color, line=dict(width=0))
    ann.append(dict(x=px(x0 + 5), xref="paper", y=py(643.5), yref="paper", text=name,
                    showarrow=False, xanchor="center", yanchor="middle",
                    font=dict(family=MONO, size=6.5, color="black")))

# title box
fig.add_shape(type="rect", xref="paper", yref="paper", x0=px(20), x1=px(443),
              y0=py(699), y1=py(667), line=dict(color="black", width=1))

fig.update_layout(
    width=W, height=H,
    margin=dict(l=L, r=R, t=T, b=B, pad=0),
    paper_bgcolor="white", plot_bgcolor="white",
    hovermode=False,
    annotations=ann,
    xaxis=dict(range=[0, 384], tickvals=day_hours, showticklabels=False, ticks="",
               showgrid=True, gridcolor="#c0c0c0", gridwidth=1, zeroline=False,
               showline=True, linecolor="black", linewidth=1, mirror=False),
    yaxis=dict(range=[-42.81, 42.9], tickvals=temp_ticks, showticklabels=False, ticks="",
               showgrid=True, gridcolor="#c0c0c0", gridwidth=1, zeroline=False,
               showline=False),
    yaxis2=dict(range=[-7.81, 77.9], overlaying="y", side="right", tickvals=precip_ticks,
                showticklabels=False, ticks="", showgrid=False, zeroline=False,
                showline=False),
)

# page body has a default 8px margin; remove it so the 740x700 figure fills the window
fig.write_html("out.html", config={"displayModeBar": False},
               post_script="document.body.style.margin='0px';")
